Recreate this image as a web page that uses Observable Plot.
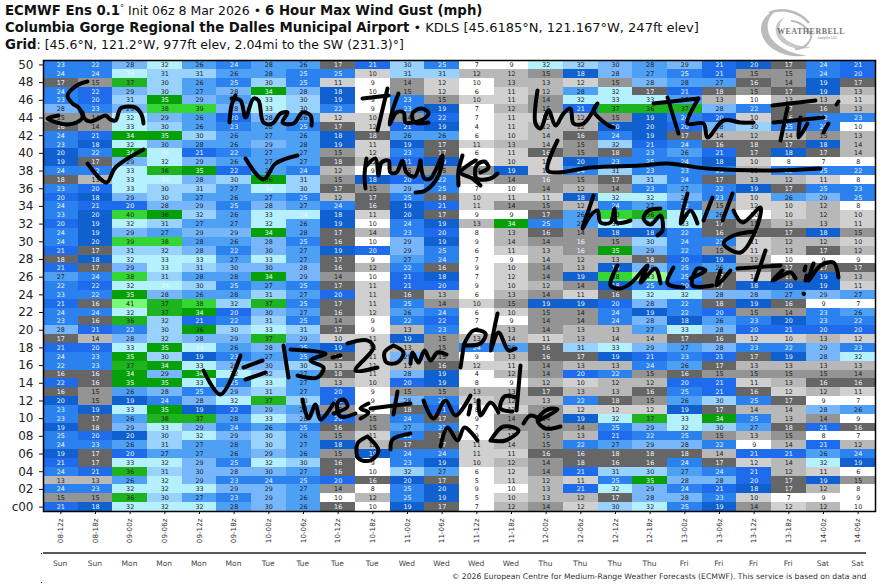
<!DOCTYPE html>
<html><head><meta charset="utf-8">
<script src="https://cdn.jsdelivr.net/npm/d3@7"></script>
<script src="https://cdn.jsdelivr.net/npm/@observablehq/plot@0.6"></script>
<style>
html,body{margin:0;padding:0;background:#fff;width:884px;height:586px;overflow:hidden}
body{position:relative;font-family:"DejaVu Sans",sans-serif;color:#111}
#head{position:absolute;left:5px;top:2px;font-size:12.5px;line-height:17px;white-space:nowrap}
#head b{font-size:13.3px}
#head sup{font-size:8px;line-height:0;vertical-align:4px}
#chart{position:absolute;left:0;top:56px}
#logo{position:absolute;left:755px;top:5px}
</style></head><body>
<div id="head">
<div><b>ECMWF Ens 0.1</b><sup>°</sup> Init 06z 8 Mar 2026 • <b>6 Hour Max Wind Gust (mph)</b></div>
<div style="font-size:13px"><b>Columbia Gorge Regional the Dalles Municipal Airport</b> • KDLS [45.6185°N, 121.167°W, 247ft elev]</div>
<div><b>Grid</b>: [45.6°N, 121.2°W, 977ft elev, 2.04mi to the SW (231.3)°]</div>
</div>
<svg id="logo" width="100" height="54" viewBox="0 0 100 54">
<g fill="none" stroke="#b4b4b4" opacity=".9">
<path d="M22 5C6 10 2 24 10 36C18 48 38 54 52 50C40 50 24 44 16 33C10 23 12 12 22 5Z" fill="#b4b4b4" stroke="none"/>
<path d="M30 12C20 16 18 26 24 34C30 42 44 46 56 42C44 42 32 38 27 30C23 24 24 17 30 12Z" fill="#c4c4c4" stroke="none"/>
<path d="M14 8C26 2 44 6 54 18" stroke-width="2.5"/>
<path d="M36 16C44 16 52 22 56 30" stroke-width="2"/>
<path d="M40 44C50 44 58 36 56 26" stroke-width="2"/>
</g>
<text x="22" y="29" font-family="Liberation Serif" font-weight="bold" font-size="8" fill="#777" letter-spacing=".5">WEATHERBELL</text>
<text x="62" y="34" font-family="Liberation Serif" font-size="3.5" fill="#777">Analytics LLC</text>
</svg>
<div id="chart"></div>
<script>
const colLabels = ["08-12z","08-18z","09-00z","09-06z","09-12z","09-18z","10-00z","10-06z","10-12z","10-18z","11-00z","11-06z","11-12z","11-18z","12-00z","12-06z","12-12z","12-18z","13-00z","13-06z","13-12z","13-18z","14-00z","14-06z"];
const dayLabels = ["Sun","Sun","Mon","Mon","Mon","Mon","Tue","Tue","Tue","Tue","Wed","Wed","Wed","Wed","Thu","Thu","Thu","Thu","Fri","Fri","Fri","Fri","Sat","Sat"];
const rowLabels = d3.range(0,51).map(i => i===0 ? "c00" : String(i).padStart(2,"0"));
const binEdges  = [10,12,14,16,18,20,22,25.5,28,30,32,34,36,38,40,42];
const binColors = ["#ffffff","#d0d0d0","#b8b8b8","#949494","#666666","#1060d0","#1e6ceb","#2b82ee","#4ea0f5","#78b6fb","#99d2fd","#b4f0fd","#08a008","#1fb31f","#33d633","#78f878","#99fb8e"];

// member rows, top to bottom: 50 ... c00
const m50=[23,22,28,32,26,24,28,26,17,21,30,25,7,9,32,32,30,28,29,21,20,17,24,21];
const m49=[24,24,34,31,31,26,28,25,25,10,31,31,12,12,15,18,28,27,25,21,15,15,24,20];
const m48=[17,15,37,30,26,25,30,25,11,9,14,12,10,13,13,12,15,28,28,27,16,14,19,17];
const m47=[24,22,29,30,27,28,34,28,18,10,15,12,6,11,12,28,32,17,21,18,15,17,19,13];
const m46=[23,20,31,35,29,27,33,30,19,9,23,15,10,11,14,32,33,33,27,13,10,13,13,11];
const m45=[28,23,29,38,39,28,33,30,22,9,23,19,7,12,15,21,37,36,37,28,22,17,16,13];
const m44=[15,14,32,29,26,20,28,26,12,10,14,22,7,11,12,12,15,19,24,20,10,16,22,23];
const m43=[16,14,33,30,26,23,28,25,17,12,21,19,4,11,12,12,20,20,20,28,30,25,22,10];
const m42=[24,21,34,35,30,26,27,26,18,18,26,26,6,10,14,16,24,19,17,14,12,14,15,13];
const m41=[23,18,32,30,28,26,29,28,19,11,19,17,11,13,14,15,32,21,24,16,18,17,18,14];
const m40=[20,22,34,34,21,22,27,27,15,12,23,17,6,11,16,15,18,23,26,21,17,18,17,14];
const m39=[19,17,29,32,29,26,27,27,18,12,21,19,7,10,12,20,23,25,24,18,10,8,7,8];
const m38=[24,22,33,36,35,22,26,24,12,9,15,15,14,19,12,24,31,23,23,23,12,22,25,22];
const m37=[18,13,33,34,28,30,36,31,15,18,20,22,10,14,16,15,17,31,24,17,13,12,11,8];
const m36=[23,20,33,30,31,27,34,30,17,15,29,25,7,10,14,12,14,23,27,22,19,17,25,23];
const m35=[20,18,29,30,27,26,27,25,12,17,25,18,10,11,11,18,32,32,28,23,10,26,29,25];
const m34=[24,21,20,28,29,25,28,27,24,16,19,21,11,14,15,12,24,27,22,15,12,10,12,8];
const m33=[23,20,40,36,32,26,33,34,18,11,20,17,9,9,17,26,40,36,33,26,10,10,12,10];
const m32=[20,19,32,31,27,27,32,26,19,10,24,19,13,34,25,27,33,31,33,17,15,13,13,11];
const m31=[24,19,29,27,29,29,34,28,17,14,23,20,8,13,16,14,18,18,22,16,17,17,18,15];
const m30=[24,20,39,38,28,26,28,25,16,10,29,19,9,14,14,16,15,30,24,22,11,12,12,10];
const m29=[21,17,31,32,28,22,30,27,19,20,29,25,6,11,13,16,35,29,22,15,11,13,17,12];
const m28=[18,18,32,33,33,27,33,27,17,9,27,24,7,9,14,12,13,18,20,19,12,10,9,9];
const m27=[21,17,29,33,31,30,30,28,16,12,22,16,9,10,14,13,19,28,25,26,16,17,17,17];
const m26=[27,24,38,31,28,28,34,29,14,10,21,18,7,12,14,19,38,43,25,17,11,17,19,13];
const m25=[22,22,32,34,30,25,27,25,17,11,21,20,9,10,12,14,18,25,20,17,18,20,19,11];
const m24=[23,22,35,28,26,28,31,27,20,11,16,13,6,13,14,11,16,32,32,28,28,27,29,27];
const m23=[21,16,41,37,38,32,37,25,17,11,25,14,10,15,19,19,20,28,22,18,19,16,9,7];
const m22=[24,24,32,37,34,20,30,27,16,12,26,24,6,10,15,14,24,19,22,20,15,14,23,26];
const m21=[23,16,36,32,21,22,31,25,14,9,22,22,7,9,14,14,24,28,18,26,23,20,23,22];
const m20=[28,21,22,30,36,30,33,31,17,9,13,23,8,13,14,13,13,27,33,28,20,21,20,20];
const m19=[17,14,28,32,28,29,37,29,10,11,19,15,13,14,11,13,14,14,17,16,12,10,13,12];
const m18=[21,20,33,35,34,26,28,25,19,11,13,15,24,26,16,31,33,29,27,28,23,22,29,23];
const m17=[24,23,35,30,19,23,27,25,18,11,29,15,9,13,16,17,19,21,23,21,17,19,28,32];
const m16=[22,23,37,34,33,29,30,30,13,11,13,16,12,11,14,13,13,24,26,17,13,13,13,13];
const m15=[16,16,34,29,34,32,32,27,18,11,28,19,4,12,14,20,22,15,16,15,15,15,15,14];
const m14=[22,16,35,35,33,25,33,27,13,10,20,19,8,9,12,10,12,12,20,21,11,13,16,16];
const m13=[16,15,26,28,25,29,31,27,20,9,15,15,13,13,17,13,13,16,25,21,16,12,12,11];
const m12=[20,15,19,24,28,32,37,30,21,9,28,25,10,12,13,22,18,15,26,30,25,17,9,7];
const m11=[23,19,33,35,19,22,29,27,15,9,18,21,8,12,15,12,12,12,19,17,14,14,28,26];
const m10=[23,17,26,38,37,28,33,28,20,15,24,17,9,14,14,19,32,37,33,34,25,13,14,9];
const m09=[19,18,29,33,29,24,26,25,16,15,27,22,7,14,14,14,25,29,32,30,27,18,21,16];
const m08=[25,20,20,30,32,29,30,26,15,11,25,17,9,12,15,13,21,22,25,15,13,15,8,7];
const m07=[24,23,26,31,27,28,30,27,18,12,17,17,11,14,15,22,27,29,28,22,9,14,21,12];
const m06=[19,17,20,27,27,26,29,26,15,19,24,24,11,11,16,16,18,18,18,14,21,21,26,24];
const m05=[21,17,33,32,29,25,32,30,16,9,23,19,10,12,14,18,16,16,24,17,12,14,32,19];
const m04=[24,21,36,31,30,28,30,27,16,10,32,27,6,12,14,21,31,30,27,24,21,12,11,6];
const m03=[13,13,26,32,29,23,24,25,20,16,20,17,5,11,12,11,25,35,28,28,20,17,19,15];
const m02=[24,23,32,32,33,29,29,27,14,8,25,20,9,10,13,21,32,29,24,21,18,17,12,8];
const m01=[15,15,36,30,27,23,29,26,10,12,25,19,5,10,13,12,17,28,28,23,10,7,9,9];
const m00=[21,18,32,32,32,28,30,26,16,10,19,17,7,12,14,12,30,32,25,19,14,12,12,10];
const members=[m00,m01,m02,m03,m04,m05,m06,m07,m08,m09,m10,m11,m12,m13,m14,m15,m16,m17,m18,m19,m20,m21,m22,m23,m24,m25,m26,m27,m28,m29,m30,m31,m32,m33,m34,m35,m36,m37,m38,m39,m40,m41,m42,m43,m44,m45,m46,m47,m48,m49,m50];

// cells whose printed whole number sits just under a colour boundary (unrounded value is slightly lower)
const justBelow = {50:[6,15,16,17,20],49:[2,6],48:[11,12,15,18],47:[1,9,11,15,19],46:[20],44:[8,11,14],43:[6,9,16,17,23],42:[9,14,19,21],41:[3,4,7,14,16,20,23],40:[0,3,9,16,23],39:[8,14,15],38:[5,14],37:[0,3,6,14],36:[6,13],35:[11,13],34:[20],33:[1,2,3,4,7,10,16,20],32:[9],31:[7,9],30:[1,4,9,13,15],29:[3,6,15],28:[0,14,17,21],27:[5,6,20],26:[4,5,9,13],25:[1,3,21],24:[5],23:[5,19],22:[6,9],21:[3,11,21],20:[4],19:[1,3,13,16,17,20,23],18:[4],17:[8],16:[6,12],15:[6,8],14:[0],13:[21],12:[0,16],11:[5,10,13,15,16,17,20,21],10:[3,5],9:[1,21],8:[2],7:[5,13,21],6:[16,17,18,19],5:[15,20,21],4:[4,6,9,10,13],3:[10],2:[11,13],1:[8],0:[5,6,9,15,21,23]};

// pen annotations traced over the chart (picture position, converted to column / row units below)
const penStrokes = [
 [[87,81],[78,84],[67,95],[72,103],[78,107],[82,117],[76,122],[67,124],[56,122],[47,118],[58,115]],
 [[82,112],[84,118],[90,121],[98,118],[105,115],[110,119],[115,120],[120,108],[128,106],[135,107],[141,114],[143,123]],
 [[87,163],[106,182],[115,167],[143,149]],
 [[235,95],[231,105],[229,122]],
 [[231,98],[240,100],[245,117],[253,98],[258,100],[263,122],[272,123],[280,113],[287,112],[282,122],[293,123],[302,112],[310,115],[311,125]],
 [[245,158],[263,179],[275,163],[297,155]],
 [[362,98],[388,95]],[[387,88],[377,130]],
 [[398,93],[392,110],[389,124],[396,112],[403,112],[405,122],[412,122],[424,118],[428,112],[420,108],[412,113],[414,122],[428,122]],
 [[366,158],[364,175],[365,188]],
 [[366,165],[375,158],[378,175],[381,162],[388,160],[390,172],[396,172],[402,160],[406,172],[414,176],[420,160]],
 [[420,160],[424,178],[430,178],[442,155],[438,175],[425,190],[415,192]],
 [[462,155],[458,170],[458,185]],[[475,160],[460,172],[472,178],[480,185]],
 [[480,172],[488,167],[484,161],[476,165],[476,178],[490,178],[497,173]],
 [[537,90],[535,123],[540,128],[548,110],[555,125],[563,113],[570,108],[573,123],[583,123],[597,103],[593,110],[608,125],[613,127]],
 [[653,103],[698,98]],[[667,97],[678,133]],
 [[698,98],[687,123],[703,123],[707,137],[723,120],[740,122],[753,122]],
 [[772,105],[815,100]],[[787,107],[780,140]],[[773,122],[823,117]],
 [[800,117],[798,137],[807,123]],
 [[838,101],[836,104]],[[828,123],[823,132]],
 [[557,140],[547,170],[557,172],[590,167],[640,165],[667,163],[707,168],[773,170],[820,168]],
 [[593,195],[588,210],[582,228],[590,215],[597,210],[600,222],[610,222],[614,208],[616,222],[630,220]],
 [[660,208],[648,210],[643,218],[650,224],[660,215],[662,230],[657,235]],
 [[687,193],[680,223],[690,210],[697,223]],
 [[712,197],[703,220]],[[732,193],[722,220]],
 [[733,210],[742,222],[760,207],[755,230],[740,252],[723,243],[733,235],[755,231]],
 [[617,265],[610,285],[620,288],[630,283],[647,265],[640,282],[655,268],[660,283]],
 [[673,267],[667,283],[683,287]],
 [[690,278],[705,270],[697,268],[692,285],[712,285]],
 [[720,270],[716,285],[730,270]],
 [[765,250],[755,280]],[[737,268],[780,265]],
 [[782,270],[772,280],[790,272],[795,278]],
 [[805,266],[804,270]],[[806,275],[805,280]],
 [[813,263],[808,280],[820,265],[833,262],[838,277]],
 [[803,293],[803.5,293.5]],
 [[203,370],[220,394],[240,355]],
 [[243,367],[262,360]],[[245,379],[265,372]],
 [[283,345],[288,377]],
 [[290,349],[325,353],[310,360],[323,367],[317,377],[297,375]],
 [[332,357],[340,355]],
 [[347,343],[367,340],[373,347],[355,370],[377,367]],
 [[393,345],[384,352],[386,362],[397,362],[403,352],[393,345]],
 [[410,363],[412,352],[418,362],[424,350],[430,360],[437,352],[446,354]],
 [[463,347],[460,367]],[[463,345],[473,330],[485,333],[480,343],[465,345]],
 [[497,313],[490,350],[498,332],[508,350],[515,348]],
 [[302,399],[308,418],[315,404],[320,419],[333,403]],
 [[333,413],[347,406],[343,399],[337,402],[340,416],[355,413]],
 [[368,403],[360,408],[368,412],[360,418]],
 [[397,391],[393,414]],[[370,408],[410,403]],
 [[423,400],[433,418],[445,400],[455,415],[470,395]],
 [[470,405],[468,414]],
 [[478,400],[480,415],[490,402],[498,412]],
 [[520,365],[516,410]],[[516,397],[504,396],[500,408],[512,411]],
 [[367,436],[357,443],[358,458],[370,460],[378,450],[367,436]],
 [[390,449],[392,439],[410,433]],
 [[440,446],[447,427],[457,440],[464,427],[477,440]],
 [[490,440],[503,426],[518,430],[505,440],[490,440]],
 [[523,423],[530,415],[540,419]],
 [[540,419],[557,409],[547,409],[537,420],[545,428],[560,426]]
];

const cellRows = members.flatMap((vals,r) => vals.map((v,c) => ({c,r,v, raw:(justBelow[r]||[]).includes(c) ? v-.2 : v})));
const colOf = px => (px-43)/(832/24), rowOf = py => (511-py)/(451/51);
const ink = penStrokes.flatMap((s,z) => s.map(([px,py]) => ({x:colOf(px), y:rowOf(py), z})));
const colCentres = colLabels.map((_,i)=>i+.5);
const rowCentres = d3.range(0,51,2).map(i=>i+.5);
const textColor = v => (v>=16 && v<=25) || v===34 || v===35 ? "#eef4ff" : "#222";

const plot = Plot.plot({
  width:884, height:530,
  marginLeft:43, marginRight:9, marginTop:4, marginBottom:75,
  style:{fontFamily:"DejaVu Sans",background:"transparent",overflow:"visible"},
  x:{domain:[0,24],axis:null},
  y:{domain:[0,51],axis:null},
  color:{type:"threshold",domain:binEdges,range:binColors},
  marks:[
    Plot.rect(cellRows,{x1:"c",x2:d=>d.c+1,y1:"r",y2:d=>d.r+1,fill:"raw",shapeRendering:"crispEdges"}),
    Plot.text(cellRows,{x:d=>d.c+.5,y:d=>d.r+.5,text:d=>String(d.v),fill:d=>textColor(d.v),fontSize:6.4}),
    Plot.frame({stroke:"#000",strokeWidth:1.5}),
    Plot.axisX({ticks:colCentres,tickFormat:v=>colLabels[v-.5],tickRotate:-90,tickSize:3,tickPadding:4,fontSize:7.2,label:null,anchor:"bottom",fill:"#333"}),
    Plot.axisY({ticks:rowCentres,tickFormat:v=>rowLabels[v-.5],tickSize:4,tickPadding:6,fontSize:12,label:null,anchor:"left",fill:"#222"}),
    Plot.ruleY([-4.7],{x1:0,x2:23.74,stroke:"#222",strokeWidth:1.5}),
    Plot.text(dayLabels,{x:(d,i)=>i+.48,y:()=>-5.85,text:d=>d,fontSize:7.5,fill:"#444"}),
    Plot.text(["© 2026 European Centre for Medium-Range Weather Forecasts (ECMWF). This service is based on data and"],{x:()=>23.74,y:()=>-7.3,text:d=>d,textAnchor:"end",fontSize:7.7,fill:"#333"}),
    Plot.dot([[41,553],[41,582]],{x:d=>colOf(d[0]),y:d=>rowOf(d[1]),r:.7,fill:"#000",stroke:null}),
    Plot.line(ink,{x:"x",y:"y",z:"z",stroke:"#000",strokeWidth:4,curve:"catmull-rom",strokeLinecap:"round",strokeLinejoin:"round"})
  ]
});
document.getElementById("chart").append(plot);
</script>
</body></html>
